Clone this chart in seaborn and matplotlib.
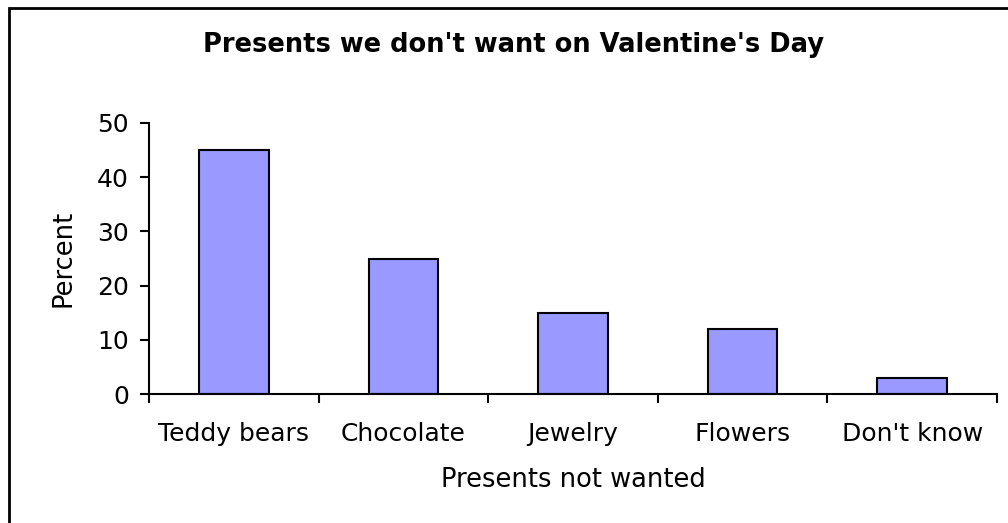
import matplotlib
matplotlib.use("Agg")
import matplotlib.pyplot as plt
import seaborn as sns
from matplotlib.patches import Rectangle

categories = ["Teddy bears", "Chocolate", "Jewelry", "Flowers", "Don't know"]
percent = [45, 25, 15, 12, 3]
y_ticks = [0, 10, 20, 30, 40, 50]

sns.set_style("white")
plt.rcParams["font.family"] = ["DejaVu Sans"]
plt.rcParams["text.color"] = "black"
plt.rcParams["axes.labelcolor"] = "black"
plt.rcParams["xtick.color"] = "black"
plt.rcParams["ytick.color"] = "black"

fig = plt.figure(figsize=(10.08, 5.23), dpi=100)
ax = fig.add_axes([149 / 1008, 1 - 394 / 523, 848 / 1008, 271 / 523])

sns.barplot(x=categories, y=percent, color="#9999ff", saturation=1,
            edgecolor="black", linewidth=1.5, width=0.41, ax=ax)

ax.set_xlim(-0.5, len(categories) - 0.5)
ax.set_ylim(0, 50)
ax.set_yticks(y_ticks)

# ticks at category boundaries, labels at centres
ax.set_xticks([i - 0.5 for i in range(len(categories) + 1)])
ax.set_xticklabels([])
ax.set_xticks(range(len(categories)), minor=True)
ax.set_xticklabels(categories, minor=True, fontsize=18)
ax.tick_params(axis="x", which="major", direction="out", length=6.5, width=1.5,
               bottom=True)
ax.tick_params(axis="x", which="minor", length=0, pad=20)
ax.tick_params(axis="y", direction="out", length=6.5, width=1.5, left=True,
               labelsize=18, pad=8)

sns.despine(ax=ax)
for s in ["left", "bottom"]:
    ax.spines[s].set_linewidth(1.5)
    ax.spines[s].set_color("black")

ax.set_xlabel("Presents not wanted", fontsize=18.5, labelpad=15)
ax.set_ylabel("Percent", fontsize=18.5, labelpad=15)
fig.text(0.509, 1 - 45 / 523, "Presents we don't want on Valentine's Day",
         ha="center", va="center", fontsize=18.5, fontweight="bold")

# chart-area frame
fig.patches.append(Rectangle((9 / 1008, -0.1), 1.2, 1 - 8 / 523 + 0.1,
                             transform=fig.transFigure, fill=False,
                             edgecolor="black", linewidth=2))

fig.savefig("out.png", dpi=100)
